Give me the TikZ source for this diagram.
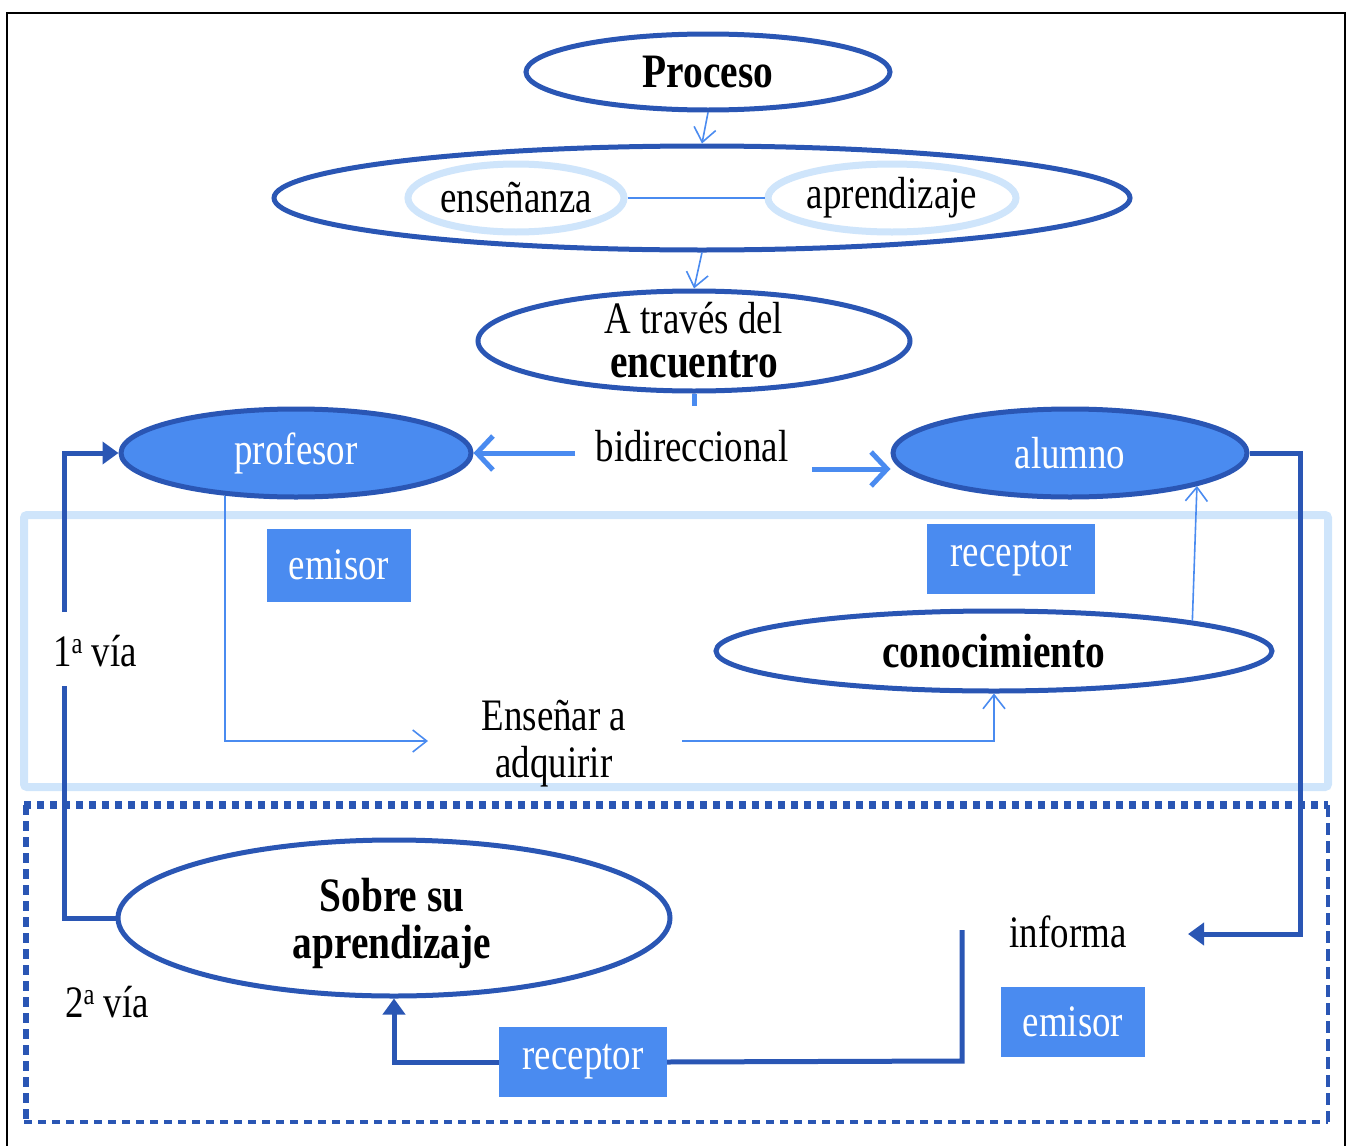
\documentclass[tikz,border=0pt]{standalone}
\usepackage{fontspec}
\setmainfont{Liberation Serif}[FakeStretch=0.82]
\usetikzlibrary{shapes.geometric,arrows.meta}
\definecolor{dblue}{RGB}{42,86,180}
\definecolor{mblue}{RGB}{74,139,240}
\definecolor{lblue}{RGB}{207,229,251}
\newcommand{\supa}{\raisebox{0.62ex}{\fontsize{30}{30}\selectfont a}}
\begin{document}
\begin{tikzpicture}[x=1pt,y=-1pt,
  ell/.style={ellipse,draw=dblue,line width=5pt,inner sep=0pt,fill=white,align=center},
  fell/.style={ellipse,draw=dblue,line width=5pt,inner sep=0pt,fill=mblue,text=white},
  sell/.style={ellipse,draw=lblue,line width=7pt,inner sep=0pt,fill=white},
  boxn/.style={fill=mblue,text=white,inner sep=0pt},
  txt/.style={inner sep=0pt,align=center},
  nfont/.style={font=\fontsize{45}{47}\selectfont},
  bfont/.style={font=\fontsize{48}{47}\selectfont\bfseries},
  thinc/.style={draw=mblue,line width=1.6pt},
  barb/.style={-{Straight Barb[length=14pt,width=22pt]}},
  medc/.style={draw=mblue,line width=5pt,-{Straight Barb[length=16pt,width=34pt]}},
  darkc/.style={draw=dblue,line width=5pt},
  dtip/.style={-{Triangle[length=16pt,width=22pt]}}
]
\useasboundingbox (0,0) rectangle (1350,1146);
% outer frame
\draw[black,line width=2pt] (7,1150) -- (7,13) -- (1345,13) -- (1345,1150);

% light blue band
\draw[lblue,line width=8pt,rounded corners=3pt] (24,515) rectangle (1328,787);
% dotted box
\draw[dblue,line width=8pt,dash pattern=on 7pt off 6pt] (24,805) -- (1328,805);
\draw[dblue,line width=6pt,dash pattern=on 10pt off 6pt] (26,805) -- (26,1122);
\draw[dblue,line width=4pt,dash pattern=on 8pt off 6pt] (24,1122) -- (1328,1122);
\draw[dblue,line width=3.5pt,dash pattern=on 12pt off 6pt] (1328,805) -- (1328,1122);

% nodes
\node[ell,bfont,minimum width=364pt,minimum height=76pt] (proc) at (708,72) {Proceso};
\node[ell,minimum width=856pt,minimum height=104pt] (big) at (702,198) {};
\node[sell,nfont,minimum width=216pt,minimum height=68pt] (ens) at (516,198) {enseñanza};
\node[sell,nfont,minimum width=248pt,minimum height=68pt] (apr) at (892,198) {aprendizaje};
\node[ell,minimum width=432pt,minimum height=100pt] (enc) at (694,341) {};
\node[txt,nfont] (enct1) at (694,318) {A través del};
\node[txt,bfont] (enct2) at (694,364) {encuentro};
\node[fell,nfont,minimum width=350pt,minimum height=88pt] (prof) at (296,453) {profesor};
\node[fell,nfont,minimum width=354pt,minimum height=88pt] (alu) at (1070,453) {alumno};
\node[txt,nfont] (bidi) at (692,446) {bidireccional};
\node[boxn,nfont,minimum width=144pt,minimum height=73pt] (emi1) at (339,565) {emisor};
\node[boxn,nfont,minimum width=168pt,minimum height=70pt] (rec1) at (1011,559) {receptor};
\node[ell,bfont,minimum width=556pt,minimum height=80pt] (con) at (994,651) {conocimiento};
\node[txt,nfont] (ensn) at (554,744) {Enseñar a\\adquirir};
\node[txt,nfont] (via1) at (95,651) {1\supa{} vía};
\node[ell,minimum width=552pt,minimum height=156pt] (sob) at (394,918) {};
\node[txt,bfont] (sobt) at (392,923) {Sobre su\\aprendizaje};
\node[txt,nfont] (via2) at (107,1002) {2\supa{} vía};
\node[txt,nfont] (inf) at (1068,932) {informa};
\node[boxn,nfont,minimum width=144pt,minimum height=70pt] (emi2) at (1073,1022) {emisor};
\node[boxn,nfont,minimum width=168pt,minimum height=70pt] (rec2) at (583,1062) {receptor};

% coordinates
\coordinate (stub) at (694,406);
\coordinate (bl) at (575,453);
\coordinate (br) at (812,469);
\coordinate (e1) at (428,741);
\coordinate (e2) at (682,741);
\coordinate (v1a) at (64,686);
\coordinate (v1b) at (64,612);
\coordinate (c2) at (1300,934);
\coordinate (c3) at (1188,934);
\coordinate (c4) at (962,930);
\coordinate (c5) at (962,1061);

% thin connectors
\draw[thinc,barb] (proc.south) -- (big.north);
\draw[thinc] (ens.east) -- (apr.west);
\draw[thinc,barb] (big.south) -- (enc.north);
\draw[mblue,line width=5pt] (enc.south) -- (stub);
\draw[thinc,barb] (prof.211) |- (e1);
\draw[thinc,barb] (e2) -| (con.south);
\draw[thinc,barb] (con.north east) -- (alu.south east);

% bidirectional
\draw[medc] (bl) -- (prof.east);
\draw[medc] (br) -- (alu.west |- br);

% dark connectors
\draw[darkc] (sob.west) -| (v1a);
\draw[darkc,dtip] (v1b) |- (prof.west);
\draw[darkc,dtip] (alu.east) -| (c2) -- (c3);
\draw[darkc] (c4) -- (c5) -- (rec2.east);
\draw[darkc,dtip] (rec2.west) -| (sob.south);
\end{tikzpicture}
\end{document}
